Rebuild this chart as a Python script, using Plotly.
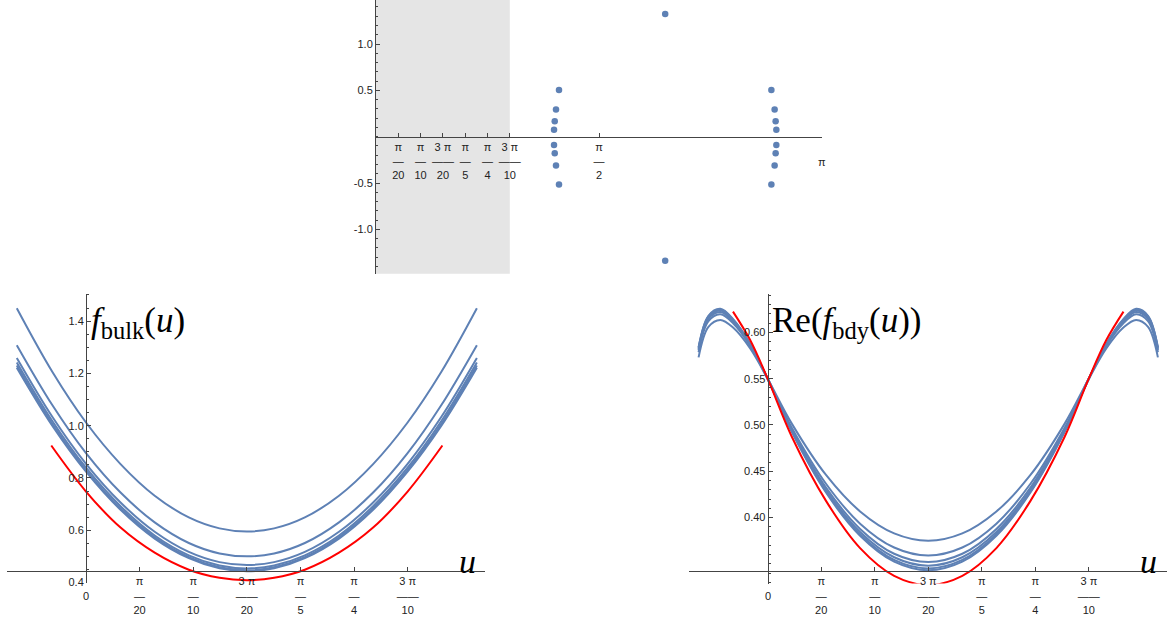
import numpy as np
import plotly.graph_objects as go

PI = np.pi

# ---------------- data: top panel (points) ----------------
pts_x = [1.289, 1.268, 1.259, 1.254, 1.254, 1.259, 1.268, 1.289,
         2.037, 2.037,
         2.785, 2.808, 2.815, 2.820, 2.820, 2.815, 2.808, 2.785]
pts_y = [0.503, 0.293, 0.167, 0.075, -0.090, -0.180, -0.310, -0.515,
         1.323, -1.338,
         0.503, 0.293, 0.167, 0.075, -0.090, -0.180, -0.310, -0.515]
shaded_region = [0.0, 3 * PI / 10]

top_xticks = [PI / 20, PI / 10, 3 * PI / 20, PI / 5, PI / 4, 3 * PI / 10, PI / 2]
top_xtext = ["π<br>—<br>20", "π<br>—<br>10", "3 π<br>——<br>20", "π<br>—<br>5",
             "π<br>—<br>4", "3 π<br>——<br>10", "π<br>—<br>2"]
top_x_end = PI
top_x_end_label = "π"
top_yticks = [-1.0, -0.5, 0.5, 1.0]
top_ytext = ["-1.0", "-0.5", "0.5", "1.0"]

# ---------------- data: bottom-left panel f_bulk ----------------
u_bulk = [-0.2028, -0.0988, 0.0, 0.1012, 0.2012, 0.3012, 0.3912, 0.4712,
          0.5512, 0.6412, 0.7412, 0.8412, 0.9422, 1.0412, 1.1452]
bulk_curves = [
    [1.449, 1.206, 1.012, 0.853, 0.732, 0.649, 0.607, 0.595, 0.607, 0.649, 0.732, 0.853, 1.012, 1.206, 1.449],
    [1.308, 1.079, 0.895, 0.744, 0.630, 0.551, 0.511, 0.500, 0.511, 0.551, 0.630, 0.744, 0.895, 1.079, 1.308],
    [1.259, 1.034, 0.854, 0.706, 0.594, 0.517, 0.478, 0.467, 0.478, 0.517, 0.594, 0.706, 0.854, 1.034, 1.259],
    [1.242, 1.018, 0.839, 0.692, 0.580, 0.504, 0.465, 0.454, 0.465, 0.504, 0.580, 0.692, 0.839, 1.018, 1.242],
    [1.230, 1.007, 0.830, 0.683, 0.573, 0.497, 0.458, 0.447, 0.458, 0.497, 0.573, 0.683, 0.830, 1.007, 1.230],
    [1.222, 1.000, 0.824, 0.678, 0.568, 0.493, 0.454, 0.443, 0.454, 0.493, 0.568, 0.678, 0.824, 1.000, 1.222],
]
u_bulk_red = [-0.1018, 0.0, 0.1012, 0.2012, 0.3012, 0.3912, 0.4712,
              0.5512, 0.6412, 0.7412, 0.8412, 0.9422, 1.0442]
bulk_red = [0.924, 0.748, 0.610, 0.514, 0.449, 0.418, 0.409, 0.418, 0.449, 0.514, 0.610, 0.748, 0.924]

# ---------------- data: bottom-right panel Re(f_bdy) ----------------
u_bdy = [-0.2028, -0.1738, -0.1388, -0.1008, -0.0518, 0.0, 0.0712, 0.1712, 0.2712, 0.3712,
         0.4712,
         0.5712, 0.6712, 0.7712, 0.8712, 0.9424, 0.9942, 1.0432, 1.0812, 1.1162, 1.1452]
bdy_curves = [
    [0.573, 0.606, 0.6135, 0.605, 0.583, 0.550, 0.5012, 0.446, 0.4066, 0.3829, 0.375,
     0.3829, 0.4066, 0.446, 0.5012, 0.550, 0.583, 0.605, 0.6135, 0.606, 0.573],
    [0.5786, 0.6121, 0.6196, 0.6096, 0.5856, 0.550, 0.4968, 0.4365, 0.3934, 0.3676, 0.359,
     0.3676, 0.3934, 0.4365, 0.4968, 0.550, 0.5856, 0.6096, 0.6196, 0.6121, 0.5786],
    [0.5809, 0.6146, 0.6221, 0.6115, 0.5866, 0.550, 0.4949, 0.4324, 0.3877, 0.3609, 0.352,
     0.3609, 0.3877, 0.4324, 0.4949, 0.550, 0.5866, 0.6115, 0.6221, 0.6146, 0.5809],
    [0.5822, 0.6161, 0.6236, 0.6126, 0.5872, 0.550, 0.4938, 0.4300, 0.3844, 0.3571, 0.348,
     0.3571, 0.3844, 0.4300, 0.4938, 0.550, 0.5872, 0.6126, 0.6236, 0.6161, 0.5822],
    [0.5833, 0.6173, 0.6248, 0.6135, 0.5877, 0.550, 0.4928, 0.4282, 0.3820, 0.3542, 0.345,
     0.3542, 0.3820, 0.4282, 0.4928, 0.550, 0.5877, 0.6135, 0.6248, 0.6173, 0.5833],
    [0.584, 0.618, 0.6255, 0.614, 0.588, 0.550, 0.4923, 0.427, 0.3803, 0.3523, 0.343,
     0.3523, 0.3803, 0.427, 0.4923, 0.550, 0.588, 0.614, 0.6255, 0.618, 0.584],
]
u_bdy_red = [-0.1018, -0.0518, 0.0, 0.0712, 0.1712, 0.2712, 0.3712, 0.4712,
             0.5712, 0.6712, 0.7712, 0.8712, 0.9422, 0.9942, 1.0442]
bdy_red = [0.6225, 0.592, 0.550, 0.487, 0.418, 0.367, 0.337, 0.327,
           0.337, 0.367, 0.418, 0.487, 0.550, 0.592, 0.6225]

bottom_xticks = [PI / 20, PI / 10, 3 * PI / 20, PI / 5, PI / 4, 3 * PI / 10]
bottom_xtext = ["π<br>—<br>20", "π<br>—<br>10", "3 π<br>——<br>20", "π<br>—<br>5",
                "π<br>—<br>4", "3 π<br>——<br>10"]
origin_label = "0"
bulk_yticks = [0.4, 0.6, 0.8, 1.0, 1.2, 1.4]
bulk_ytext = ["0.4", "0.6", "0.8", "1.0", "1.2", "1.4"]
bdy_yticks = [0.40, 0.45, 0.50, 0.55, 0.60]
bdy_ytext = ["0.40", "0.45", "0.50", "0.55", "0.60"]

# ---------------- styling / layout ----------------
BLUE = "#5E81B5"
RED = "#FF0000"
AX = "#444444"
W, H = 1167, 628
tickfont = dict(family="Liberation Sans, Arial, sans-serif", size=11, color="#222222")


def px_dom_x(a, b):
    return [a / W, b / W]


def px_dom_y(top, bottom):
    return [1 - bottom / H, 1 - top / H]


def cross(dom, rng, v):
    return dom[0] + (v - rng[0]) / (rng[1] - rng[0]) * (dom[1] - dom[0])


# panel geometry
top_xd, top_xr = px_dom_x(376, 822), [0, PI]
top_yd, top_yr = px_dom_y(0, 276), [-1.48, 1.475]
bl_xd, bl_xr = px_dom_x(7, 485), [-0.2315, 1.169]
bl_yd, bl_yr = px_dom_y(296, 587.7), [0.398, 1.505]
br_xd, br_xr = px_dom_x(689.3, 1166.7), [-0.230, 1.171]
br_yd, br_yr = px_dom_y(296, 588.3), [0.3286, 0.6419]
bulk_origin = 0.443
bdy_origin = 0.342

fig = go.Figure()

fig.add_trace(go.Scatter(x=pts_x, y=pts_y, mode="markers", xaxis="x", yaxis="y",
                         marker=dict(color=BLUE, size=6.5), hoverinfo="skip"))

for c in bulk_curves:
    fig.add_trace(go.Scatter(x=u_bulk, y=c, mode="lines", xaxis="x2", yaxis="y2",
                             line=dict(color=BLUE, width=2, shape="spline", smoothing=1.0),
                             hoverinfo="skip"))
fig.add_trace(go.Scatter(x=u_bulk_red, y=bulk_red, mode="lines", xaxis="x2", yaxis="y2",
                         line=dict(color=RED, width=2, shape="spline", smoothing=1.0),
                         hoverinfo="skip"))

for c in bdy_curves:
    fig.add_trace(go.Scatter(x=u_bdy, y=c, mode="lines", xaxis="x3", yaxis="y3",
                             line=dict(color=BLUE, width=2, shape="spline", smoothing=1.0),
                             hoverinfo="skip"))
fig.add_trace(go.Scatter(x=u_bdy_red, y=bdy_red, mode="lines", xaxis="x3", yaxis="y3",
                         line=dict(color=RED, width=2, shape="spline", smoothing=1.0),
                         hoverinfo="skip"))

common = dict(showgrid=False, zeroline=False, showline=True, linecolor=AX, linewidth=1,
              ticks="inside", ticklen=4, tickcolor=AX, tickfont=tickfont, fixedrange=True)

fig.update_layout(
    width=W, height=H, margin=dict(l=0, r=0, t=0, b=0),
    paper_bgcolor="white", plot_bgcolor="rgba(0,0,0,0)", showlegend=False,
    xaxis=dict(domain=top_xd, range=top_xr, anchor="free",
               position=cross(top_yd, top_yr, 0.0),
               tickmode="array", tickvals=top_xticks, ticktext=top_xtext,
               minor=dict(ticks="inside", ticklen=4, tickcolor=AX, tickvals=[top_x_end]),
               **common),
    yaxis=dict(domain=top_yd, range=top_yr, anchor="x",
               tickmode="array", tickvals=top_yticks, ticktext=top_ytext,
               minor=dict(ticks="inside", ticklen=2, tickcolor=AX,
                          tickvals=[round(v, 2) for v in np.arange(-1.4, 1.45, 0.1)]),
               **common),
    xaxis2=dict(domain=bl_xd, range=bl_xr, anchor="free",
                position=cross(bl_yd, bl_yr, bulk_origin),
                tickmode="array", tickvals=bottom_xticks, ticktext=bottom_xtext, **common),
    yaxis2=dict(domain=bl_yd, range=bl_yr, anchor="free",
                position=cross(bl_xd, bl_xr, 0.0),
                tickmode="array", tickvals=bulk_yticks, ticktext=bulk_ytext,
                minor=dict(ticks="inside", ticklen=2, tickcolor=AX,
                           tickvals=[round(v, 2) for v in np.arange(0.4, 1.51, 0.05)]),
                **common),
    xaxis3=dict(domain=br_xd, range=br_xr, anchor="free",
                position=cross(br_yd, br_yr, bdy_origin),
                tickmode="array", tickvals=bottom_xticks, ticktext=bottom_xtext, **common),
    yaxis3=dict(domain=br_yd, range=br_yr, anchor="free",
                position=cross(br_xd, br_xr, 0.0),
                tickmode="array", tickvals=bdy_yticks, ticktext=bdy_ytext,
                minor=dict(ticks="inside", ticklen=2, tickcolor=AX,
                           tickvals=[round(v, 2) for v in np.arange(0.33, 0.645, 0.01)]),
                **common),
)

fig.add_shape(type="rect", xref="x", yref="y domain", x0=shaded_region[0], x1=shaded_region[1],
              y0=0, y1=1, fillcolor="#E5E5E5", line=dict(width=0), layer="below")

# end-of-axis / origin tick labels (vertically centred on the fraction labels)
lab_font = dict(family="Liberation Sans, Arial, sans-serif", size=11, color="#222222")
fig.add_annotation(xref="x", yref="paper", x=top_x_end, y=1 - 163 / H, text=top_x_end_label,
                   showarrow=False, xanchor="center", yanchor="middle", font=lab_font)
fig.add_annotation(xref="x2", yref="paper", x=0, y=1 - 601 / H, text=origin_label,
                   showarrow=False, xanchor="center", yanchor="middle", font=lab_font)
fig.add_annotation(xref="x3", yref="paper", x=0, y=1 - 601 / H, text=origin_label,
                   showarrow=False, xanchor="center", yanchor="middle", font=lab_font)

serif = "Liberation Serif, DejaVu Serif, serif"
fig.add_annotation(xref="paper", yref="paper", x=89 / W, y=1 - 325 / H, xanchor="left", yanchor="middle",
                   text="<i>f</i><sub>bulk</sub>(<i>u</i>)", showarrow=False,
                   font=dict(family=serif, size=35, color="black"))
fig.add_annotation(xref="paper", yref="paper", x=770 / W, y=1 - 325 / H, xanchor="left", yanchor="middle",
                   text="Re(<i>f</i><sub>bdy</sub>(<i>u</i>))", showarrow=False,
                   font=dict(family=serif, size=35, color="black"))
fig.add_annotation(xref="paper", yref="paper", x=467 / W, y=1 - 566 / H, xanchor="center", yanchor="middle",
                   text="<i>u</i>", showarrow=False, font=dict(family=serif, size=34, color="black"))
fig.add_annotation(xref="paper", yref="paper", x=1148 / W, y=1 - 566 / H, xanchor="center", yanchor="middle",
                   text="<i>u</i>", showarrow=False, font=dict(family=serif, size=34, color="black"))

fig.write_html("out.html", config={"displayModeBar": False},
               post_script="document.body.style.margin='0';document.body.style.overflow='hidden';")
